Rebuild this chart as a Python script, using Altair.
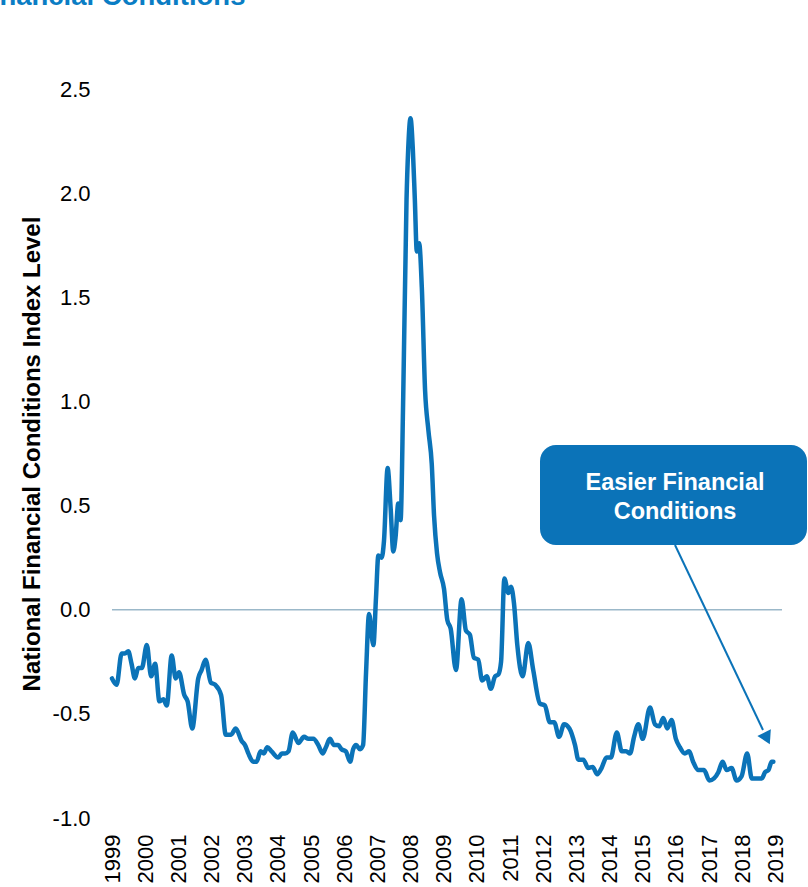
import altair as alt
import pandas as pd

# National Financial Conditions Index, sampled along the series (decimal year, index level)
years = [
    1999.00, 1999.14, 1999.29, 1999.39, 1999.49, 1999.59, 1999.69, 1999.79, 1999.90,
    2000.05, 2000.18, 2000.30, 2000.43, 2000.55, 2000.65, 2000.80, 2000.92,
    2001.02, 2001.18, 2001.28, 2001.42, 2001.60, 2001.70, 2001.82, 2001.98,
    2002.11, 2002.29, 2002.43, 2002.59, 2002.73, 2002.91,
    2003.01, 2003.11, 2003.26, 2003.36, 2003.48, 2003.58, 2003.68, 2003.81,
    2004.01, 2004.12, 2004.22, 2004.32, 2004.45, 2004.62, 2004.79, 2004.92,
    2005.07, 2005.22, 2005.35, 2005.45, 2005.57, 2005.69, 2005.82, 2005.92,
    2006.05, 2006.18, 2006.27, 2006.36, 2006.48, 2006.57, 2006.66, 2006.75, 2006.88, 2006.96,
    2007.03, 2007.13, 2007.20, 2007.31, 2007.40, 2007.48, 2007.55, 2007.63, 2007.70, 2007.78,
    2007.88, 2007.93, 2008.00, 2008.07, 2008.13, 2008.19, 2008.26, 2008.34, 2008.44,
    2008.54, 2008.64, 2008.71, 2008.80, 2008.89,
    2009.01, 2009.11, 2009.21, 2009.37, 2009.54, 2009.67, 2009.79, 2009.91,
    2010.04, 2010.16, 2010.30, 2010.42, 2010.55, 2010.65, 2010.73, 2010.83, 2010.95,
    2011.03, 2011.12, 2011.22, 2011.38, 2011.55, 2011.70, 2011.90,
    2012.05, 2012.20, 2012.33, 2012.48, 2012.63, 2012.79, 2012.96,
    2013.06, 2013.21, 2013.36, 2013.49, 2013.63, 2013.76, 2013.91,
    2014.04, 2014.22, 2014.37, 2014.50, 2014.62, 2014.74, 2014.87,
    2015.00, 2015.22, 2015.37, 2015.50, 2015.62, 2015.74, 2015.87,
    2016.00, 2016.12, 2016.27, 2016.40, 2016.52, 2016.68, 2016.85,
    2017.01, 2017.15, 2017.28, 2017.41, 2017.53, 2017.68, 2017.83, 2017.98,
    2018.15, 2018.29, 2018.44, 2018.59, 2018.69, 2018.79, 2018.89, 2018.94,
]
index_level = [
    -0.33, -0.36, -0.21, -0.21, -0.20, -0.26, -0.33, -0.28, -0.28,
    -0.17, -0.32, -0.26, -0.44, -0.43, -0.46, -0.22, -0.33,
    -0.30, -0.41, -0.44, -0.57, -0.33, -0.29, -0.24, -0.35,
    -0.36, -0.41, -0.60, -0.60, -0.57, -0.63,
    -0.65, -0.69, -0.73, -0.73, -0.68, -0.69, -0.66, -0.68,
    -0.71, -0.69, -0.69, -0.68, -0.59, -0.64, -0.61, -0.62,
    -0.62, -0.65, -0.69, -0.66, -0.62, -0.65, -0.65, -0.67,
    -0.68, -0.73, -0.67, -0.65, -0.67, -0.65, -0.30, -0.02, -0.17, 0.06,
    0.26, 0.25, 0.33, 0.68, 0.49, 0.28, 0.35, 0.51, 0.43, 1.02,
    1.97, 2.21, 2.36, 2.21, 1.97, 1.72, 1.76, 1.55, 1.05,
    0.86, 0.70, 0.45, 0.27, 0.18,
    0.10, -0.05, -0.09, -0.29, 0.05, -0.10, -0.12, -0.23,
    -0.24, -0.34, -0.32, -0.38, -0.32, -0.31, -0.25, 0.15, 0.08,
    0.11, 0.03, -0.17, -0.32, -0.16, -0.29, -0.45,
    -0.46, -0.54, -0.54, -0.61, -0.55, -0.57, -0.65,
    -0.72, -0.72, -0.76, -0.755, -0.79, -0.76, -0.71,
    -0.71, -0.59, -0.68, -0.68, -0.69, -0.61, -0.55,
    -0.62, -0.47, -0.55, -0.56, -0.52, -0.57, -0.53,
    -0.62, -0.66, -0.69, -0.68, -0.73, -0.77, -0.77,
    -0.82, -0.81, -0.78, -0.73, -0.77, -0.76, -0.82, -0.80,
    -0.69, -0.81, -0.81, -0.81, -0.78, -0.77, -0.73, -0.73,
]
year_ticks = list(range(1999, 2020))
level_ticks = [-1.0, -0.5, 0.0, 0.5, 1.0, 1.5, 2.0, 2.5]
zero_line = [0.0]

BLUE = "#0b73b8"
TITLE_BLUE = "#0a7dc4"
RULE_GREY = "#9bb8c9"
FONT = "Liberation Sans"

series = pd.DataFrame({"year": years, "nfci": index_level})
one_row = pd.DataFrame({"k": [0]})

x_scale = alt.Scale(domain=[1999, 2019.2], nice=False, zero=False)
y_scale = alt.Scale(domain=[-1.0, 2.5], nice=False, zero=False)

zero_rule = alt.Chart(pd.DataFrame({"level": zero_line})).mark_rule(
    color=RULE_GREY, strokeWidth=1.5
).encode(y=alt.Y("level:Q", scale=y_scale))

line = alt.Chart(series).mark_line(
    color=BLUE, strokeWidth=4.5, interpolate="monotone",
    strokeCap="round", strokeJoin="round"
).encode(
    x=alt.X(
        "year:Q", scale=x_scale,
        axis=alt.Axis(
            values=year_ticks, format="d", labelAngle=270,
            labelAlign="right", labelBaseline="middle",
            labelFontSize=22, labelColor="black", labelPadding=16,
            labelOverlap=False, labelFlush=False,
            ticks=False, domain=False, grid=False, title=None,
        ),
    ),
    y=alt.Y(
        "nfci:Q", scale=y_scale,
        axis=alt.Axis(
            values=level_ticks,
            labelExpr="replace(format(datum.value, '.1f'), '\u2212', '-')",
            labelFontSize=22, labelColor="black", labelPadding=22,
            labelOverlap=False, labelFlush=False,
            ticks=False, domain=False, grid=False,
            title="National Financial Conditions Index Level",
            titleFontSize=24, titleFontWeight="bold", titleColor="black",
            titleX=-80, titleBaseline="middle", titleAngle=270,
        ),
    ),
)

# Callout box with its arrow pointing at the latest reading
box = alt.Chart(one_row).mark_rect(color=BLUE, cornerRadius=16).encode(
    x=alt.value(428), x2=alt.value(695), y=alt.value(356), y2=alt.value(456)
)
box_line1 = alt.Chart(one_row).mark_text(
    text="Easier Financial", color="white", fontSize=23.5, fontWeight="bold",
    align="center", baseline="alphabetic", font=FONT
).encode(x=alt.value(563), y=alt.value(401))
box_line2 = alt.Chart(one_row).mark_text(
    text="Conditions", color="white", fontSize=23.5, fontWeight="bold",
    align="center", baseline="alphabetic", font=FONT
).encode(x=alt.value(563), y=alt.value(430))
arrow_shaft = alt.Chart(one_row).mark_rule(color=BLUE, strokeWidth=2).encode(
    x=alt.value(563), y=alt.value(456), x2=alt.value(651), y2=alt.value(641)
)
arrow_head = alt.Chart(one_row).mark_point(
    shape="triangle", filled=True, size=225, angle=154, color=BLUE, opacity=1
).encode(x=alt.value(654), y=alt.value(647.5))

heading = alt.Chart(one_row).mark_text(
    text="Financial Conditions", color=TITLE_BLUE, fontSize=27.5, fontWeight="bold",
    align="left", baseline="alphabetic", font=FONT
).encode(x=alt.value(-137), y=alt.value(-84))

chart = alt.layer(
    zero_rule, line, box, box_line1, box_line2, arrow_shaft, arrow_head, heading
).properties(
    width=670, height=729,
    autosize=alt.AutoSizeParams(type="none"),
    padding={"left": 112, "top": 89, "right": 26, "bottom": 69},
).configure(font=FONT).configure_view(stroke=None)

chart.save("out.html", embed_options={"renderer": "svg", "actions": False})
